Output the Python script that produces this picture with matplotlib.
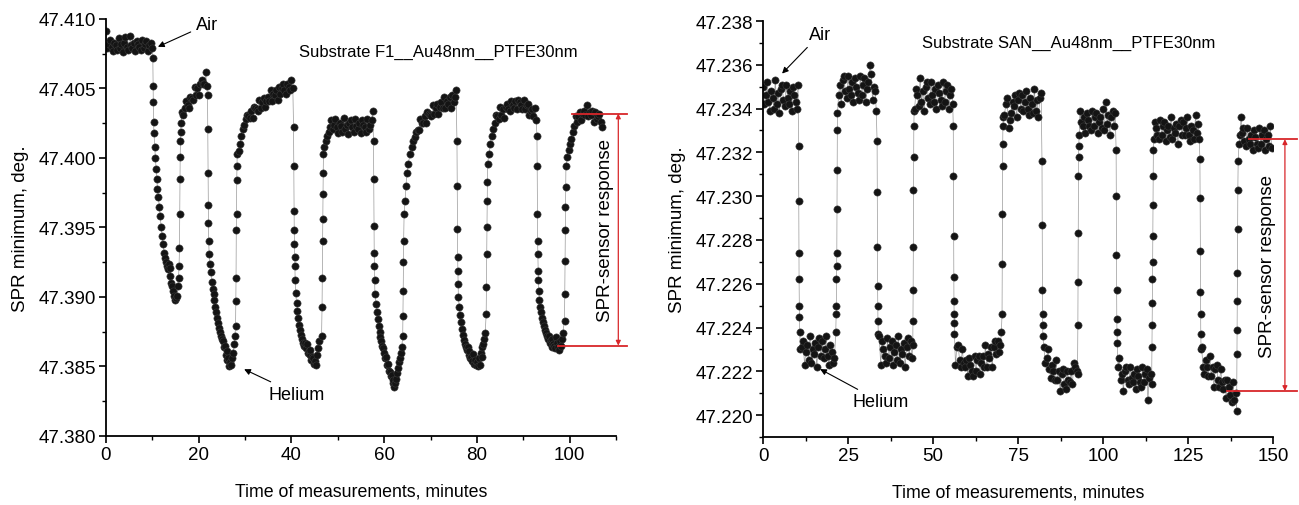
import matplotlib
matplotlib.use("Agg")
import matplotlib.pyplot as plt
from matplotlib.ticker import MultipleLocator, FormatStrFormatter

plt.rcParams['font.family'] = ['Liberation Sans', 'DejaVu Sans']

# ---- left panel: Substrate F1, (time min, SPR minimum deg) ----
f1_data = [
    (0.0, 47.4091), (0.3, 47.4079), (0.6, 47.4082), (0.9, 47.4085), (1.2, 47.4080), (1.5, 47.4077),
    (1.8, 47.4083), (2.1, 47.4081), (2.4, 47.4078), (2.7, 47.4086), (3.0, 47.4079), (3.3, 47.4082),
    (3.6, 47.4076), (3.9, 47.4083), (4.2, 47.4087), (4.5, 47.4080), (4.8, 47.4078), (5.1, 47.4088),
    (5.4, 47.4081), (5.7, 47.4079), (6.0, 47.4083), (6.3, 47.4077), (6.6, 47.4084), (6.9, 47.4082),
    (7.2, 47.4080), (7.5, 47.4078), (7.8, 47.4085), (8.1, 47.4079), (8.4, 47.4082), (8.7, 47.4084),
    (9.0, 47.4077), (9.3, 47.4081), (9.6, 47.4083), (9.9, 47.4079),
    (10.1, 47.4072), (10.15, 47.4052), (10.2, 47.4040), (10.25, 47.4026), (10.35, 47.4018), (10.5, 47.4008),
    (10.65, 47.4000), (10.8, 47.3992), (10.95, 47.3985), (11.1, 47.3978), (11.3, 47.3972), (11.5, 47.3965),
    (11.7, 47.3958), (11.9, 47.3950), (12.1, 47.3944), (12.3, 47.3938), (12.5, 47.3932), (12.7, 47.3928),
    (12.9, 47.3925), (13.1, 47.3922), (13.3, 47.3920), (13.5, 47.3924), (13.7, 47.3921), (13.9, 47.3915),
    (14.1, 47.3910), (14.3, 47.3908), (14.5, 47.3904), (14.7, 47.3901), (14.9, 47.3898), (15.1, 47.3899),
    (15.3, 47.3901), (15.5, 47.3908), (15.65, 47.3914), (15.75, 47.3922),
    (15.85, 47.3935), (15.9, 47.3960), (15.95, 47.3985), (16.0, 47.4001), (16.05, 47.4012), (16.1, 47.4019),
    (16.2, 47.4025), (16.4, 47.4033), (16.7, 47.4031), (17.0, 47.4036), (17.3, 47.4041), (17.6, 47.4038),
    (17.9, 47.4036), (18.2, 47.4044), (18.5, 47.4043), (18.8, 47.4042), (19.1, 47.4051), (19.4, 47.4045),
    (19.7, 47.4050), (20.0, 47.4045), (20.3, 47.4053), (20.6, 47.4056), (20.9, 47.4053), (21.2, 47.4053),
    (21.5, 47.4062), (21.7, 47.4052),
    (21.9, 47.4045), (21.95, 47.4021), (22.0, 47.3989), (22.05, 47.3966), (22.1, 47.3953), (22.15, 47.3940),
    (22.25, 47.3931), (22.4, 47.3924), (22.6, 47.3918), (22.8, 47.3911), (23.0, 47.3906), (23.2, 47.3902),
    (23.4, 47.3898), (23.6, 47.3893), (23.8, 47.3889), (24.0, 47.3885), (24.2, 47.3881), (24.4, 47.3878),
    (24.6, 47.3875), (24.8, 47.3872), (25.0, 47.3870), (25.2, 47.3868), (25.4, 47.3864), (25.6, 47.3865),
    (25.8, 47.3858), (26.0, 47.3861), (26.2, 47.3855), (26.4, 47.3856), (26.6, 47.3850), (26.8, 47.3853),
    (27.0, 47.3851), (27.2, 47.3856), (27.4, 47.3860), (27.6, 47.3866), (27.8, 47.3872),
    (27.95, 47.3879), (28.0, 47.3897), (28.05, 47.3914), (28.1, 47.3948), (28.15, 47.3960), (28.2, 47.3984),
    (28.25, 47.3994), (28.3, 47.4003), (28.6, 47.4005), (28.9, 47.4010), (29.2, 47.4016), (29.5, 47.4021),
    (29.8, 47.4024), (30.1, 47.4028), (30.4, 47.4031),
    (30.7, 47.4030), (31.0, 47.4029), (31.3, 47.4034), (31.6, 47.4029), (31.9, 47.4037), (32.2, 47.4036),
    (32.5, 47.4035), (32.8, 47.4034), (33.1, 47.4042), (33.4, 47.4036), (33.7, 47.4040), (34.0, 47.4043),
    (34.3, 47.4037), (34.6, 47.4041), (34.9, 47.4044), (35.2, 47.4041), (35.5, 47.4049), (35.8, 47.4041),
    (36.1, 47.4046), (36.4, 47.4045), (36.7, 47.4049), (37.0, 47.4042), (37.3, 47.4051), (37.6, 47.4046),
    (37.9, 47.4050), (38.2, 47.4053), (38.5, 47.4049), (38.8, 47.4046), (39.1, 47.4053), (39.4, 47.4051),
    (39.7, 47.4049), (40.0, 47.4056), (40.3, 47.4050),
    (40.45, 47.4022), (40.5, 47.3994), (40.55, 47.3962), (40.6, 47.3948), (40.65, 47.3938), (40.7, 47.3929),
    (40.75, 47.3922), (40.8, 47.3912), (40.9, 47.3903), (41.1, 47.3896), (41.3, 47.3890), (41.5, 47.3885),
    (41.7, 47.3880), (41.9, 47.3876), (42.1, 47.3873), (42.3, 47.3870), (42.5, 47.3867), (42.7, 47.3865),
    (42.9, 47.3867), (43.1, 47.3863), (43.3, 47.3866), (43.5, 47.3860), (43.7, 47.3861), (43.9, 47.3858),
    (44.1, 47.3862), (44.3, 47.3855), (44.5, 47.3857), (44.7, 47.3856), (44.9, 47.3852), (45.1, 47.3854),
    (45.3, 47.3851), (45.5, 47.3858), (45.7, 47.3863), (45.9, 47.3868),
    (46.5, 47.3872), (46.6, 47.3893), (46.65, 47.3914), (46.7, 47.3940), (46.75, 47.3956), (46.8, 47.3974),
    (46.85, 47.3989), (46.9, 47.4003), (47.1, 47.4008), (47.4, 47.4012), (47.7, 47.4016), (48.0, 47.4019),
    (48.3, 47.4022),
    (48.6, 47.4027), (48.9, 47.4021), (49.2, 47.4024), (49.5, 47.4028), (49.8, 47.4022), (50.1, 47.4018),
    (50.4, 47.4025), (50.7, 47.4023), (51.0, 47.4019), (51.3, 47.4029), (51.6, 47.4021), (51.9, 47.4024),
    (52.2, 47.4017), (52.5, 47.4025), (52.8, 47.4027), (53.1, 47.4022), (53.4, 47.4019), (53.7, 47.4028),
    (54.0, 47.4023), (54.3, 47.4021), (54.6, 47.4025), (54.9, 47.4018), (55.2, 47.4027), (55.5, 47.4024),
    (55.8, 47.4022), (56.1, 47.4019), (56.4, 47.4028), (56.7, 47.4021), (57.0, 47.4024), (57.3, 47.4027),
    (57.5, 47.4034),
    (57.7, 47.4012), (57.75, 47.3985), (57.8, 47.3951), (57.85, 47.3932), (57.9, 47.3922), (57.95, 47.3912),
    (58.0, 47.3902), (58.2, 47.3895), (58.4, 47.3889), (58.6, 47.3884), (58.8, 47.3879), (59.0, 47.3875),
    (59.2, 47.3871), (59.4, 47.3868), (59.6, 47.3865), (59.8, 47.3863), (60.0, 47.3860), (60.2, 47.3856),
    (60.4, 47.3857), (60.6, 47.3851), (60.8, 47.3852), (61.0, 47.3847), (61.2, 47.3846), (61.4, 47.3843),
    (61.6, 47.3844), (61.8, 47.3838), (62.0, 47.3840), (62.2, 47.3835), (62.4, 47.3838), (62.6, 47.3841),
    (62.8, 47.3845), (63.0, 47.3849), (63.2, 47.3853), (63.4, 47.3856), (63.6, 47.3860), (63.8, 47.3864),
    (64.0, 47.3872), (64.05, 47.3886), (64.1, 47.3904), (64.15, 47.3925), (64.2, 47.3940), (64.3, 47.3960),
    (64.5, 47.3969), (64.7, 47.3980), (64.9, 47.3989), (65.2, 47.3996), (65.6, 47.4003), (66.0, 47.4008),
    (66.3, 47.4012), (66.6, 47.4015), (66.9, 47.4019),
    (67.2, 47.4020), (67.5, 47.4020), (67.8, 47.4028), (68.1, 47.4025), (68.4, 47.4025), (68.7, 47.4030),
    (69.0, 47.4025), (69.3, 47.4033), (69.6, 47.4032), (69.9, 47.4031), (70.2, 47.4030), (70.5, 47.4038),
    (70.8, 47.4032), (71.1, 47.4036), (71.4, 47.4039), (71.7, 47.4032), (72.0, 47.4037), (72.3, 47.4040),
    (72.6, 47.4036), (72.9, 47.4044), (73.2, 47.4036), (73.5, 47.4041), (73.8, 47.4039), (74.1, 47.4044),
    (74.4, 47.4036), (74.7, 47.4045), (75.0, 47.4040), (75.3, 47.4044), (75.5, 47.4049),
    (75.7, 47.4012), (75.75, 47.3980), (75.8, 47.3949), (75.85, 47.3929), (75.9, 47.3919), (75.95, 47.3909),
    (76.0, 47.3900), (76.2, 47.3893), (76.4, 47.3887), (76.6, 47.3882), (76.8, 47.3877), (77.0, 47.3873),
    (77.2, 47.3869), (77.4, 47.3866), (77.6, 47.3864), (77.8, 47.3862), (78.0, 47.3864), (78.2, 47.3858),
    (78.4, 47.3861), (78.6, 47.3856), (78.8, 47.3857), (79.0, 47.3854), (79.2, 47.3859), (79.4, 47.3852),
    (79.6, 47.3855), (79.8, 47.3851), (80.0, 47.3853), (80.2, 47.3850), (80.4, 47.3856), (80.6, 47.3851),
    (80.8, 47.3860), (81.0, 47.3857), (81.2, 47.3864), (81.4, 47.3866), (81.6, 47.3870), (81.8, 47.3874),
    (82.0, 47.3888), (82.05, 47.3907), (82.1, 47.3931), (82.15, 47.3950), (82.2, 47.3969), (82.25, 47.3983),
    (82.3, 47.3996), (82.6, 47.4003), (82.9, 47.4010), (83.2, 47.4016), (83.5, 47.4021), (83.8, 47.4025),
    (84.1, 47.4031), (84.4, 47.4030), (84.7, 47.4028), (85.0, 47.4037), (85.3, 47.4031), (85.6, 47.4035),
    (85.9, 47.4029), (86.2, 47.4037), (86.5, 47.4039), (86.8, 47.4035), (87.1, 47.4034), (87.4, 47.4041),
    (87.7, 47.4038), (88.0, 47.4036), (88.3, 47.4041), (88.6, 47.4035), (88.9, 47.4042), (89.2, 47.4040),
    (89.5, 47.4038), (89.8, 47.4035), (90.1, 47.4042), (90.4, 47.4035), (90.7, 47.4038), (91.0, 47.4039),
    (91.3, 47.4031), (91.6, 47.4034), (91.9, 47.4035), (92.2, 47.4030), (92.5, 47.4036), (92.8, 47.4027),
    (92.95, 47.4016), (93.0, 47.3994), (93.05, 47.3960), (93.1, 47.3940), (93.15, 47.3931), (93.2, 47.3919),
    (93.25, 47.3912), (93.3, 47.3904), (93.5, 47.3898), (93.7, 47.3893), (93.9, 47.3889), (94.1, 47.3885),
    (94.3, 47.3882), (94.5, 47.3879), (94.7, 47.3876), (94.9, 47.3874), (95.1, 47.3872), (95.3, 47.3870),
    (95.5, 47.3872), (95.7, 47.3867), (95.9, 47.3869), (96.1, 47.3864), (96.3, 47.3870), (96.5, 47.3866),
    (96.7, 47.3865), (96.9, 47.3863), (97.1, 47.3871), (97.3, 47.3867), (97.5, 47.3864), (97.7, 47.3862),
    (97.9, 47.3868), (98.1, 47.3865), (98.3, 47.3870), (98.5, 47.3874),
    (98.9, 47.3883), (98.95, 47.3902), (99.0, 47.3926), (99.05, 47.3948), (99.1, 47.3965), (99.15, 47.3979),
    (99.2, 47.3994), (99.5, 47.4001), (99.8, 47.4006), (100.1, 47.4010), (100.4, 47.4014), (100.7, 47.4019),
    (101.0, 47.4023),
    (101.3, 47.4030), (101.6, 47.4026), (101.9, 47.4030), (102.2, 47.4033), (102.5, 47.4027), (102.8, 47.4032),
    (103.1, 47.4034), (103.4, 47.4031), (103.7, 47.4038), (104.0, 47.4030), (104.3, 47.4033), (104.6, 47.4031),
    (104.9, 47.4034), (105.2, 47.4026), (105.5, 47.4033), (105.8, 47.4028), (106.1, 47.4030), (106.4, 47.4032),
    (106.7, 47.4026), (107.0, 47.4022),
]

# ---- right panel: Substrate SAN ----
san_data = [
    (0.0, 47.2350), (0.4, 47.2342), (0.8, 47.2346), (1.2, 47.2352), (1.6, 47.2343), (2.0, 47.2339),
    (2.4, 47.2348), (2.8, 47.2345), (3.2, 47.2340), (3.6, 47.2353), (4.0, 47.2342), (4.4, 47.2347),
    (4.8, 47.2338), (5.2, 47.2349), (5.6, 47.2351), (6.0, 47.2344), (6.4, 47.2341), (6.8, 47.2351),
    (7.2, 47.2345), (7.6, 47.2342), (8.0, 47.2348), (8.4, 47.2339), (8.8, 47.2350), (9.2, 47.2346),
    (9.6, 47.2343), (10.0, 47.2340), (10.3, 47.2351),
    (10.45, 47.2323), (10.5, 47.2298), (10.55, 47.2274), (10.6, 47.2262), (10.65, 47.2250), (10.7, 47.2245),
    (10.8, 47.2238),
    (11.0, 47.2230), (11.4, 47.2231), (11.8, 47.2234), (12.2, 47.2223), (12.6, 47.2229), (13.0, 47.2232),
    (13.4, 47.2225), (13.8, 47.2236), (14.2, 47.2224), (14.6, 47.2230), (15.0, 47.2228), (15.4, 47.2233),
    (15.8, 47.2222), (16.2, 47.2231), (16.6, 47.2235), (17.0, 47.2227), (17.4, 47.2234), (17.8, 47.2226),
    (18.2, 47.2230), (18.6, 47.2236), (19.0, 47.2227), (19.4, 47.2223), (19.8, 47.2232), (20.2, 47.2229),
    (20.6, 47.2224), (21.0, 47.2226),
    (21.4, 47.2238), (21.5, 47.2246), (21.55, 47.2250), (21.6, 47.2262), (21.65, 47.2268), (21.7, 47.2274),
    (21.75, 47.2294), (21.8, 47.2312), (21.85, 47.2330), (21.9, 47.2338),
    (22.2, 47.2346), (22.6, 47.2351), (23.0, 47.2342), (23.4, 47.2353), (23.8, 47.2355), (24.2, 47.2348),
    (24.6, 47.2345), (25.0, 47.2355), (25.4, 47.2349), (25.8, 47.2346), (26.2, 47.2352), (26.6, 47.2343),
    (27.0, 47.2354), (27.4, 47.2350), (27.8, 47.2347), (28.2, 47.2344), (28.6, 47.2355), (29.0, 47.2346),
    (29.4, 47.2351), (29.8, 47.2354), (30.2, 47.2343), (30.6, 47.2349), (31.0, 47.2352), (31.4, 47.2360),
    (31.8, 47.2356), (32.2, 47.2344), (32.6, 47.2350), (33.0, 47.2348), (33.3, 47.2339),
    (33.55, 47.2325), (33.6, 47.2302), (33.65, 47.2277), (33.7, 47.2259), (33.75, 47.2250), (33.8, 47.2243),
    (33.9, 47.2237),
    (34.2, 47.2236), (34.6, 47.2223), (35.0, 47.2234), (35.4, 47.2230), (35.8, 47.2227), (36.2, 47.2224),
    (36.6, 47.2235), (37.0, 47.2226), (37.4, 47.2231), (37.8, 47.2234), (38.2, 47.2223), (38.6, 47.2229),
    (39.0, 47.2232), (39.4, 47.2225), (39.8, 47.2236), (40.2, 47.2224), (40.6, 47.2230), (41.0, 47.2228),
    (41.4, 47.2233), (41.8, 47.2222), (42.2, 47.2231), (42.6, 47.2235), (43.0, 47.2227), (43.4, 47.2234),
    (43.8, 47.2226),
    (44.05, 47.2232), (44.1, 47.2243), (44.15, 47.2257), (44.2, 47.2277), (44.25, 47.2303), (44.3, 47.2318),
    (44.35, 47.2332), (44.45, 47.2339),
    (44.6, 47.2340), (45.0, 47.2349), (45.4, 47.2346), (45.8, 47.2341), (46.2, 47.2354), (46.6, 47.2343),
    (47.0, 47.2348), (47.4, 47.2339), (47.8, 47.2350), (48.2, 47.2352), (48.6, 47.2345), (49.0, 47.2342),
    (49.4, 47.2352), (49.8, 47.2346), (50.2, 47.2343), (50.6, 47.2349), (51.0, 47.2340), (51.4, 47.2351),
    (51.8, 47.2347), (52.2, 47.2344), (52.6, 47.2341), (53.0, 47.2352), (53.4, 47.2343), (53.8, 47.2348),
    (54.2, 47.2351), (54.6, 47.2340), (55.0, 47.2346), (55.4, 47.2349), (55.8, 47.2342),
    (55.95, 47.2332), (56.0, 47.2309), (56.05, 47.2282), (56.1, 47.2263), (56.15, 47.2252), (56.2, 47.2246),
    (56.25, 47.2242), (56.3, 47.2237),
    (56.6, 47.2223), (57.0, 47.2231), (57.4, 47.2232), (57.8, 47.2225), (58.2, 47.2222), (58.6, 47.2230),
    (59.0, 47.2224), (59.4, 47.2222), (59.8, 47.2225), (60.2, 47.2218), (60.6, 47.2226), (61.0, 47.2223),
    (61.4, 47.2220), (61.8, 47.2218), (62.2, 47.2227), (62.6, 47.2220), (63.0, 47.2225), (63.4, 47.2227),
    (63.8, 47.2219), (64.2, 47.2224), (64.6, 47.2227), (65.0, 47.2222), (65.4, 47.2232), (65.8, 47.2222),
    (66.2, 47.2228), (66.6, 47.2226), (67.0, 47.2231), (67.4, 47.2222), (67.8, 47.2231), (68.2, 47.2234),
    (68.6, 47.2228), (69.0, 47.2234), (69.4, 47.2229), (69.8, 47.2232), (70.1, 47.2238),
    (70.3, 47.2246), (70.35, 47.2269), (70.4, 47.2292), (70.45, 47.2314), (70.5, 47.2324), (70.55, 47.2332),
    (70.7, 47.2336),
    (71.0, 47.2337), (71.4, 47.2342), (71.8, 47.2345), (72.2, 47.2331), (72.6, 47.2335), (73.0, 47.2338),
    (73.4, 47.2343), (73.8, 47.2341), (74.2, 47.2346), (74.6, 47.2336), (75.0, 47.2344), (75.4, 47.2347),
    (75.8, 47.2340), (76.2, 47.2346), (76.6, 47.2339), (77.0, 47.2343), (77.4, 47.2348), (77.8, 47.2340),
    (78.2, 47.2337), (78.6, 47.2345), (79.0, 47.2342), (79.4, 47.2338), (79.8, 47.2349), (80.2, 47.2339),
    (80.6, 47.2344), (81.0, 47.2336), (81.4, 47.2345), (81.8, 47.2347),
    (82.05, 47.2316), (82.1, 47.2287), (82.15, 47.2257), (82.2, 47.2246), (82.25, 47.2241), (82.3, 47.2236),
    (82.6, 47.2231), (83.0, 47.2224), (83.4, 47.2226), (83.8, 47.2230), (84.2, 47.2221), (84.6, 47.2217),
    (85.0, 47.2223), (85.4, 47.2220), (85.8, 47.2216), (86.2, 47.2225), (86.6, 47.2216), (87.0, 47.2220),
    (87.4, 47.2211), (87.8, 47.2219), (88.2, 47.2221), (88.6, 47.2214), (89.0, 47.2212), (89.4, 47.2220),
    (89.8, 47.2216), (90.2, 47.2215), (90.6, 47.2220), (91.0, 47.2214), (91.4, 47.2224), (91.8, 47.2222),
    (92.2, 47.2220), (92.5, 47.2219),
    (92.6, 47.2241), (92.65, 47.2261), (92.7, 47.2283), (92.75, 47.2309), (92.8, 47.2318), (92.85, 47.2323),
    (93.0, 47.2328),
    (93.2, 47.2339), (93.6, 47.2334), (94.0, 47.2332), (94.4, 47.2336), (94.8, 47.2329), (95.2, 47.2338),
    (95.6, 47.2335), (96.0, 47.2332), (96.4, 47.2330), (96.8, 47.2339), (97.2, 47.2332), (97.6, 47.2336),
    (98.0, 47.2338), (98.4, 47.2329), (98.8, 47.2334), (99.2, 47.2336), (99.6, 47.2331), (100.0, 47.2340),
    (100.4, 47.2330), (100.8, 47.2343), (101.2, 47.2333), (101.6, 47.2337), (102.0, 47.2328), (102.4, 47.2336),
    (102.8, 47.2339), (103.2, 47.2332), (103.6, 47.2338),
    (103.85, 47.2321), (103.9, 47.2300), (103.95, 47.2273), (104.0, 47.2257), (104.05, 47.2244),
    (104.1, 47.2238), (104.2, 47.2233),
    (104.4, 47.2222), (104.8, 47.2226), (105.2, 47.2216), (105.6, 47.2219), (106.0, 47.2211), (106.4, 47.2220),
    (106.8, 47.2222), (107.2, 47.2216), (107.6, 47.2214), (108.0, 47.2222), (108.4, 47.2217), (108.8, 47.2215),
    (109.2, 47.2219), (109.6, 47.2212), (110.0, 47.2221), (110.4, 47.2218), (110.8, 47.2215), (111.2, 47.2213),
    (111.6, 47.2222), (112.0, 47.2215), (112.4, 47.2219), (112.8, 47.2221), (113.2, 47.2207), (113.6, 47.2217),
    (114.0, 47.2219), (114.3, 47.2214),
    (114.4, 47.2231), (114.45, 47.2241), (114.5, 47.2251), (114.55, 47.2262), (114.6, 47.2270),
    (114.65, 47.2282), (114.7, 47.2296), (114.75, 47.2309), (114.8, 47.2321), (114.95, 47.2326),
    (115.2, 47.2334), (115.6, 47.2331), (116.0, 47.2328), (116.4, 47.2326), (116.8, 47.2335), (117.2, 47.2328),
    (117.6, 47.2332), (118.0, 47.2334), (118.4, 47.2325), (118.8, 47.2330), (119.2, 47.2332), (119.6, 47.2327),
    (120.0, 47.2336), (120.4, 47.2326), (120.8, 47.2331), (121.2, 47.2329), (121.6, 47.2333), (122.0, 47.2324),
    (122.4, 47.2332), (122.8, 47.2335), (123.2, 47.2328), (123.6, 47.2334), (124.0, 47.2328), (124.4, 47.2331),
    (124.8, 47.2336), (125.2, 47.2328), (125.6, 47.2325), (126.0, 47.2332), (126.4, 47.2330), (126.8, 47.2326),
    (127.2, 47.2337), (127.6, 47.2329), (128.0, 47.2333), (128.3, 47.2326),
    (128.5, 47.2317), (128.55, 47.2299), (128.6, 47.2275), (128.65, 47.2256), (128.7, 47.2246),
    (128.75, 47.2237), (128.85, 47.2230),
    (129.0, 47.2231), (129.4, 47.2222), (129.8, 47.2219), (130.2, 47.2225), (130.6, 47.2222), (131.0, 47.2218),
    (131.4, 47.2227), (131.8, 47.2218), (132.2, 47.2222), (132.6, 47.2213), (133.0, 47.2221), (133.4, 47.2223),
    (133.8, 47.2216), (134.2, 47.2213), (134.6, 47.2221), (135.0, 47.2215), (135.4, 47.2212), (135.8, 47.2216),
    (136.2, 47.2208), (136.6, 47.2216), (137.0, 47.2213), (137.4, 47.2209), (137.8, 47.2206), (138.2, 47.2215),
    (138.6, 47.2207), (139.0, 47.2210), (139.3, 47.2202),
    (139.4, 47.2228), (139.45, 47.2239), (139.5, 47.2252), (139.55, 47.2265), (139.6, 47.2285),
    (139.65, 47.2303), (139.75, 47.2316),
    (140.0, 47.2324), (140.3, 47.2328), (140.6, 47.2336), (140.9, 47.2329), (141.2, 47.2331), (141.6, 47.2325),
    (142.0, 47.2323), (142.4, 47.2331), (142.8, 47.2326), (143.2, 47.2324), (143.6, 47.2328), (144.0, 47.2321),
    (144.4, 47.2330), (144.8, 47.2327), (145.2, 47.2324), (145.6, 47.2322), (146.0, 47.2331), (146.4, 47.2324),
    (146.8, 47.2328), (147.2, 47.2330), (147.6, 47.2321), (148.0, 47.2326), (148.4, 47.2328), (148.8, 47.2323),
    (149.2, 47.2332), (149.6, 47.2322),
]

f1_title = "Substrate F1__Au48nm__PTFE30nm"
san_title = "Substrate SAN__Au48nm__PTFE30nm"
f1_response = (47.4032, 47.3865)     # air level, helium level of last cycle
san_response = (47.2326, 47.2211)

RED = "#d8262a"


def draw(ax, data):
    t, v = zip(*data)
    ax.plot(t, v, "-", color="0.6", lw=0.5, zorder=1)
    ax.plot(t, v, "o", ms=5.2, mfc="#141414", mec="#3a3a3a", mew=0.4, zorder=2)
    for s in ("top", "right"):
        ax.spines[s].set_visible(False)
    for s in ("left", "bottom"):
        ax.spines[s].set_linewidth(1.3)
    ax.tick_params(which="major", length=5, width=1.2, labelsize=13.5, pad=2)
    ax.tick_params(which="minor", length=3, width=1.0)
    ax.set_xlabel("Time of measurements, minutes", fontsize=12.8, labelpad=14)
    ax.set_ylabel("SPR minimum, deg.", fontsize=13.5, labelpad=7)


def arrow_note(ax, text, xy, xytext):
    ax.annotate(text, xy=xy, xytext=xytext, fontsize=13, ha="center", va="center",
                arrowprops=dict(arrowstyle="-|>", color="k", lw=0.8, mutation_scale=9,
                                shrinkA=2, shrinkB=0))


def response(ax, top, bot, x_top0, x_bot0, x_end, x_arrow, x_text):
    ax.plot([x_top0, x_end], [top, top], color=RED, lw=1.3, clip_on=False, zorder=3)
    ax.plot([x_bot0, x_end], [bot, bot], color=RED, lw=1.3, clip_on=False, zorder=3)
    ax.annotate("", xy=(x_arrow, top), xytext=(x_arrow, bot), annotation_clip=False,
                arrowprops=dict(arrowstyle="<|-|>", color=RED, lw=0.9, mutation_scale=7,
                                shrinkA=0, shrinkB=0))
    ax.text(x_text, (top + bot) / 2, "SPR-sensor response", rotation=90,
            ha="center", va="center", fontsize=13.5)


fig = plt.figure(figsize=(12.99, 5.06), dpi=100)

ax1 = fig.add_axes([0.0816, 0.1364, 0.3926, 0.8241])
draw(ax1, f1_data)
ax1.set_xlim(0, 110)
ax1.set_ylim(47.380, 47.410)
ax1.xaxis.set_major_locator(MultipleLocator(20))
ax1.xaxis.set_minor_locator(MultipleLocator(10))
ax1.yaxis.set_major_locator(MultipleLocator(0.005))
ax1.yaxis.set_minor_locator(MultipleLocator(0.0025))
ax1.yaxis.set_major_formatter(FormatStrFormatter("%.3f"))
ax1.text(71.7, 47.4077, f1_title, ha="center", va="center", fontsize=12)
arrow_note(ax1, "Air", (11.2, 47.4080), (21.8, 47.4096))
arrow_note(ax1, "Helium", (29.8, 47.3848), (41.2, 47.3830))
response(ax1, *f1_response, 100.5, 97.5, 112.4, 110.5, 107.7)

ax2 = fig.add_axes([0.5874, 0.1344, 0.3926, 0.8221])
draw(ax2, san_data)
ax2.set_xlim(0, 150)
ax2.set_ylim(47.219, 47.238)
ax2.xaxis.set_major_locator(MultipleLocator(25))
ax2.xaxis.set_minor_locator(MultipleLocator(12.5))
ax2.yaxis.set_major_locator(MultipleLocator(0.002))
ax2.yaxis.set_minor_locator(MultipleLocator(0.001))
ax2.yaxis.set_major_formatter(FormatStrFormatter("%.3f"))
ax2.text(90.0, 47.2370, san_title, ha="center", va="center", fontsize=12)
arrow_note(ax2, "Air", (5.6, 47.2356), (16.8, 47.2374))
arrow_note(ax2, "Helium", (16.8, 47.2221), (34.7, 47.2206))
response(ax2, *san_response, 143.0, 136.5, 157.0, 153.5, 148.5)

fig.savefig("out.png", dpi=100)
